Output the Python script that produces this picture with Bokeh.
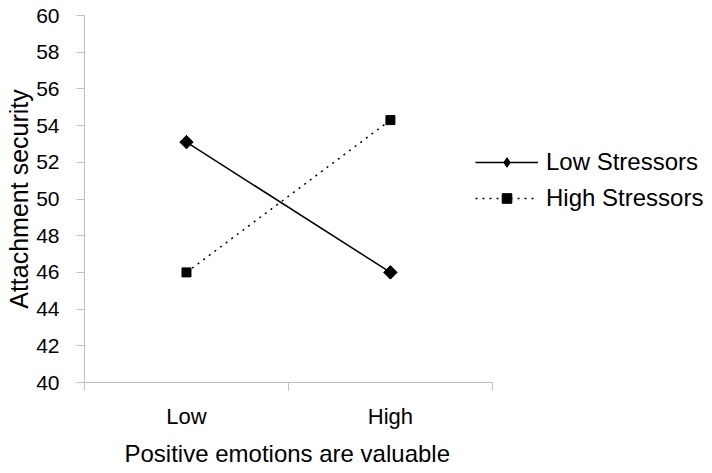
import math
from bokeh.plotting import figure
from bokeh.models import Range1d, FixedTicker, Legend, LegendItem, Title
from bokeh.embed import file_html
from bokeh.resources import INLINE

categories = ["Low", "High"]
x_pos = [0.5, 1.5]
low_stressors = [53.1, 46.0]
high_stressors = [46.0, 54.3]
y_ticks = list(range(40, 61, 2))

FONT = "Liberation Sans"
AXIS_GRAY = "#c0c0c0"

p = figure(width=712, height=473, output_backend="svg", toolbar_location=None,
           x_range=Range1d(0, 3.04), y_range=Range1d(40, 60),
           min_border_left=84, min_border_right=8, min_border_top=15, min_border_bottom=90)
p.outline_line_color = None
p.xgrid.visible = False
p.ygrid.visible = False

r1l = p.line(x_pos, low_stressors, line_color="black", line_width=1.5)
# diamond used for the legend entry, hidden under the rotated square in the plot
r1m = p.scatter(x_pos, low_stressors, marker="diamond", size=13, color="black")
p.scatter(x_pos, low_stressors, marker="square", angle=math.pi / 4, size=9.5, color="black")
r2l = p.line(x_pos, high_stressors, line_color="black", line_width=1.5, line_dash="2 5")
r2m = p.scatter(x_pos, high_stressors, marker="square", size=9, color="black")

# x axis
p.xaxis.bounds = (0, 2)
p.xaxis.ticker = FixedTicker(ticks=x_pos, minor_ticks=[0, 1, 2])
p.xaxis.major_label_overrides = {0.5: categories[0], 1.5: categories[1]}
p.xaxis.major_tick_out = 0
p.xaxis.major_tick_in = 0
p.xaxis.minor_tick_out = 8
p.xaxis.minor_tick_in = 0
p.xaxis.minor_tick_line_color = AXIS_GRAY
p.xaxis.axis_line_color = AXIS_GRAY
p.xaxis.major_label_standoff = 13
p.xaxis.major_label_text_font = FONT
p.xaxis.major_label_text_font_size = "22px"
p.xaxis.major_label_text_color = "black"

xtitle = Title(text="Positive emotions are valuable", align="left", offset=40,
               text_font=FONT, text_font_size="24px", text_font_style="normal",
               text_color="black", standoff=13)
p.add_layout(xtitle, "below")

# y axis
p.yaxis.ticker = FixedTicker(ticks=y_ticks, minor_ticks=[])
p.yaxis.major_tick_out = 8
p.yaxis.major_tick_in = 0
p.yaxis.major_tick_line_color = AXIS_GRAY
p.yaxis.axis_line_color = AXIS_GRAY
p.yaxis.major_label_standoff = 17
p.yaxis.major_label_text_font = FONT
p.yaxis.major_label_text_font_size = "21px"
p.yaxis.major_label_text_color = "black"
p.yaxis.axis_label = "Attachment security"
p.yaxis.axis_label_text_font = FONT
p.yaxis.axis_label_text_font_size = "25px"
p.yaxis.axis_label_text_font_style = "normal"
p.yaxis.axis_label_text_color = "black"
p.yaxis.axis_label_standoff = 0

legend = Legend(items=[
    LegendItem(label="Low Stressors", renderers=[r1l, r1m]),
    LegendItem(label="High Stressors", renderers=[r2l, r2m]),
], location=(391, 170))
legend.label_text_font = FONT
legend.label_text_font_size = "24px"
legend.label_text_color = "black"
legend.glyph_width = 63
legend.glyph_height = 24
legend.label_height = 24
legend.spacing = 8
legend.label_standoff = 8
legend.border_line_color = None
legend.background_fill_alpha = 0
legend.padding = 0
legend.margin = 0
p.add_layout(legend, "center")

open("out.html", "w").write(file_html(p, INLINE))
